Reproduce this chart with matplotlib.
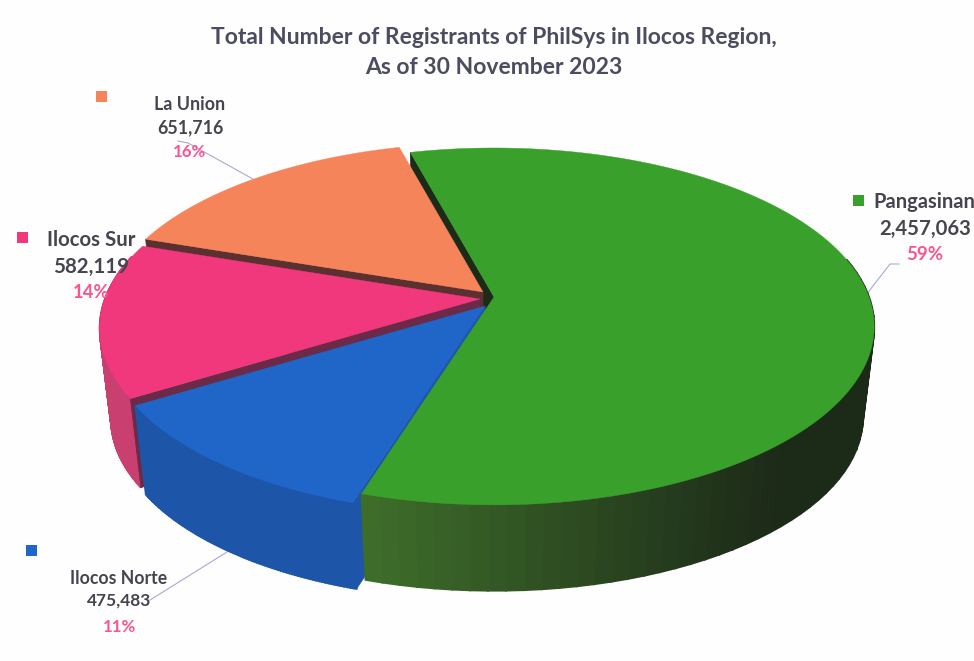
import numpy as np
import matplotlib
matplotlib.use("Agg")
import matplotlib.pyplot as plt
from matplotlib.patches import Polygon, Rectangle
from matplotlib.colors import to_rgb

# ---- data ----
categories = ["Pangasinan", "Ilocos Norte", "Ilocos Sur", "La Union"]
values = [2457063, 475483, 582119, 651716]
percent_labels = ["59%", "11%", "14%", "16%"]
title_lines = ["Total Number of Registrants of PhilSys in Ilocos Region,", "As of 30 November 2023"]

# ---- style ----
top_colors = ["#3aa02c", "#1f66c8", "#f2387c", "#f5845a"]
wall_left = ["#3f6f2b", "#1d56a8", "#c93f70", "#c96a48"]
wall_right = ["#1c2a18", "#1c4a96", "#c23a6b", "#c96a48"]
face_colors = ["#1c2a18", "#1f55a8", "#6b2a48", "#5a3030"]   # radial face at each slice's clockwise start
apex = [(494, 297), (485, 306), (480, 299), (483, 292)]
START = 105.0
RX, A, B = 375.0, 173.6, 0.165
DEPTH, SHRINK = 92.0, 0.97
TEXT = "#45454f"
PINK = "#f9558f"
FONT = "Lato"

fig = plt.figure(figsize=(9.74, 6.61), dpi=100, facecolor="#fefefe")
ax = fig.add_axes([0, 0, 1, 1])
ax.set_xlim(0, 974)
ax.set_ylim(661, 0)
ax.axis("off")


def rim(theta, c, low=False):
    t = np.radians(theta)
    den = 1 + B * np.sin(t)
    x = RX * np.cos(t) / den
    y = -A * np.sin(t) / den
    if low:
        return np.column_stack([c[0] + SHRINK * x, c[1] + SHRINK * y + DEPTH])
    return np.column_stack([c[0] + x, c[1] + y])


total = sum(values)
spans = [v / total * 360 for v in values]
starts = START - np.concatenate([[0], np.cumsum(spans)[:-1]])
order = [3, 2, 1, 0]
z = 2
for i in order:
    c = apex[i]
    a0, a1 = starts[i], starts[i] - spans[i]
    low_apex = (c[0], c[1] + DEPTH)
    # outer wall as gradient strips, front part of the rim only
    th = np.linspace(a0, a1, 91)
    up, lo = rim(th, c), rim(th, c, True)
    cl, cr = np.array(to_rgb(wall_left[i])), np.array(to_rgb(wall_right[i]))
    for k in range(len(th) - 1):
        if np.sin(np.radians(th[k])) > 0.25:
            continue
        f = np.clip((up[k, 0] - 365) / 420, 0, 1)
        col = cl * (1 - f) + cr * f
        ax.add_patch(Polygon([up[k], up[k + 1], lo[k + 1], lo[k]], closed=True, fc=col, ec=col, lw=1.4, zorder=z))
    # radial face at the clockwise start; the big slice's face lies behind all other slices
    p_t = rim(np.array([a0]), c)[0]
    p_l = rim(np.array([a0]), c, True)[0]
    face_z = 1.5 if i == 0 else z + 0.2
    ax.add_patch(Polygon([c, p_t, p_l, low_apex], closed=True, fc=face_colors[i], ec=face_colors[i],
                         lw=0.5, zorder=face_z))
    # top
    pts = np.vstack([[c], rim(np.linspace(a0, a1, 240), c)])
    ax.add_patch(Polygon(pts, closed=True, fc=top_colors[i], ec=top_colors[i], lw=0.3, zorder=z + 0.5))
    z += 1

# ---- leader lines ----
leaders = [[(866, 295), (890, 264), (899, 264)],
           [(150, 600), (227, 552)],
           [(178, 141), (188, 143), (253, 179)]]
for ln in leaders:
    xs, ys = zip(*ln)
    ax.plot(xs, ys, color="#a9a9d2", lw=0.8, zorder=1)

# ---- title ----
for txt, y in zip(title_lines, (38, 68)):
    ax.text(494, y, txt, ha="center", va="center", fontsize=16.5, fontweight="bold",
            color="#4c4c60", family=FONT, zorder=20)

# ---- labels: name, value, percent, legend square ----
fmt = [f"{v:,}" for v in values]
label_pos = [((924, 202), (925, 229), (925, 255)),
             ((119, 578), (119, 601), (119, 627)),
             ((91, 240), (91, 267), (91, 293)),
             ((190, 104), (190, 128), (190, 152))]
label_sizes = [(14.5, 14.6, 13.4), (12.7, 12.5, 12.1), (14.7, 14.8, 13.3), (12.9, 12.9, 12.2)]
squares = [(858, 200), (31, 550), (22, 237), (101, 96)]
for i in range(4):
    p1, p2, p3 = label_pos[i]
    s1, s2, s3 = label_sizes[i]
    ax.text(*p1, categories[i], ha="center", va="center", fontsize=s1, fontweight="bold",
            color=TEXT, family=FONT, zorder=20, clip_on=True)
    ax.text(*p2, fmt[i], ha="center", va="center", fontsize=s2, fontweight="bold",
            color=TEXT, family=FONT, zorder=20, clip_on=True)
    ax.text(*p3, percent_labels[i], ha="center", va="center", fontsize=s3, fontweight="bold",
            color=PINK, family=FONT, zorder=20)
    sx, sy = squares[i]
    ax.add_patch(Rectangle((sx - 5.5, sy - 5.5), 11, 11, fc=top_colors[i], ec="none", zorder=20))

fig.savefig("out.png", dpi=100, facecolor=fig.get_facecolor())
